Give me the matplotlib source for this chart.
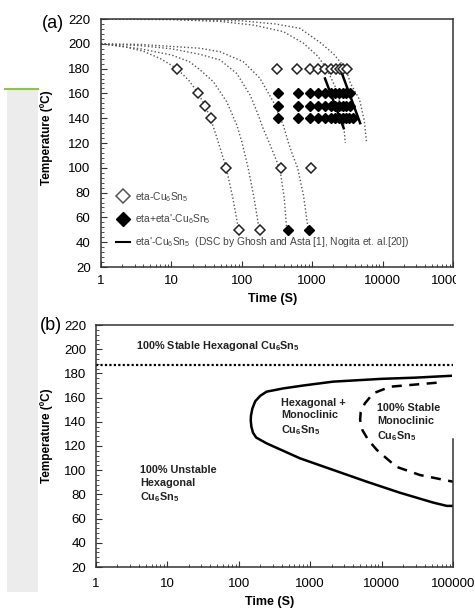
import matplotlib
matplotlib.use("Agg")
import matplotlib.pyplot as plt
from matplotlib.patches import Rectangle
from matplotlib.lines import Line2D
from matplotlib.ticker import LogLocator, MultipleLocator, FixedLocator, NullFormatter

plt.rcParams['font.family'] = ['Liberation Sans', 'DejaVu Sans']
plt.rcParams['mathtext.fontset'] = 'custom'
plt.rcParams['mathtext.rm'] = 'Liberation Sans'
plt.rcParams['mathtext.bf'] = 'Liberation Sans:bold'
plt.rcParams['mathtext.default'] = 'regular'

# ---------------- Panel (a) data ----------------
eta_180_t = [12, 313, 614, 931, 1222, 1521, 1849, 2178, 2483, 2767, 3090]
eta_other_t = [24, 30, 36, 60, 360, 950, 90, 180]
eta_other_T = [160, 150, 140, 100, 100, 100, 50, 50]
mix_t_160 = [330, 622, 931, 1222, 1521, 1832, 2110, 2427, 2711, 3020, 3400]
mix_t_150 = [330, 622, 931, 1222, 1521, 1832, 2110, 2427, 2711, 3020, 3420]
mix_t_140 = [330, 622, 931, 1222, 1521, 1832, 2110, 2427, 2711, 3020, 3365, 3760]
mix_50_t = [450, 900]

curveA_t = [1, 2, 4, 7, 12, 18, 24, 30, 36, 45, 60, 75, 90]
curveA_T = [200, 198, 194, 188, 180, 170, 160, 150, 140, 123, 100, 75, 50]
curveB_t = [1, 3.6, 10, 18, 25.5, 39.5, 61, 85, 100, 123, 150, 177]
curveB_T = [200, 196, 191, 185.6, 179, 169.4, 153.3, 134.5, 121, 100, 75, 50]
curveC_t = [1, 3.6, 10, 25.5, 49, 85, 131, 165, 200, 250, 300, 350, 400, 435]
curveC_T = [200, 198.5, 196, 191.5, 187, 176, 158.7, 145, 132, 119, 108, 98, 76, 50]
curveD_t = [1, 3.6, 25.5, 49, 105, 181, 280, 388, 455, 530, 620, 750, 880]
curveD_T = [200, 199.5, 196.4, 193.6, 185.6, 172.2, 153.3, 134.5, 121, 110, 100, 78, 50]
curveE_t = [1, 10, 50, 150, 390, 750, 1200, 1600, 2100, 2500, 2750, 2950]
curveE_T = [220, 219.5, 218, 215, 209.8, 200.5, 190, 180, 166, 152, 140, 120]
curveF_t = [1, 10, 100, 300, 670, 1300, 2000, 3000, 3500, 4700, 5500, 5900]
curveF_T = [220, 219.8, 218.5, 216, 212.5, 201, 192, 180, 168, 155, 138, 121]

dsc1_t = [1520, 2800]
dsc1_T = [172, 132]
dsc2_t = [2650, 4800]
dsc2_T = [176, 136]

# ---------------- Panel (b) data ----------------
hex_stable_T = 187
hex_stable_t = [1, 100000]
solid_t = [93000, 30000, 10000, 2100, 800, 420, 245, 200, 170, 155, 148, 147, 150, 158,
           175, 245, 720, 2100, 6200, 18000, 53000, 82000, 100000]
solid_T = [178, 176.5, 175.5, 173.2, 170, 167.6, 164.9, 161.5, 157, 151, 145, 141, 136, 131,
           127, 122.2, 109.8, 100.2, 90.5, 81.4, 73.2, 70.5, 70.5]
dashed_t = [59000, 13200, 7600, 5800, 5100, 5000, 5400, 6500, 8600, 16000, 34500, 100000]
dashed_T = [172.3, 169, 163.5, 155, 148, 141.5, 133, 125, 116.7, 102.9, 96, 90.5]

x_ticks = [1, 10, 100, 1000, 10000, 100000]
x_ticklabels = ['1', '10', '100', '1000', '10000', '100000']
y_ticks = [20, 40, 60, 80, 100, 120, 140, 160, 180, 200, 220]

W, H = 475, 608
fig = plt.figure(figsize=(W / 100, H / 100), dpi=100)

# left decorative strip
fig.patches.append(Rectangle((7 / W, 1 - 592 / H), 31 / W, (592 - 90) / H,
                             transform=fig.transFigure, facecolor='#ececec',
                             edgecolor='none', zorder=-5))
fig.add_artist(Line2D([5 / W, 38 / W], [1 - 89 / H, 1 - 89 / H], transform=fig.transFigure,
                      color='#8dc63f', lw=1.5))

ax1 = fig.add_axes([101 / W, 1 - 267 / H, 352 / W, 248 / H])
ax2 = fig.add_axes([96 / W, 1 - 567 / H, 357 / W, 242 / H])


def style(ax, xpad, ypad):
    ax.set_xscale('log')
    ax.set_xlim(1, 100000)
    ax.set_ylim(20, 220)
    ax.xaxis.set_major_locator(FixedLocator(x_ticks))
    ax.set_xticklabels(x_ticklabels)
    ax.xaxis.set_minor_locator(LogLocator(base=10, subs=range(2, 10), numticks=20))
    ax.xaxis.set_minor_formatter(NullFormatter())
    ax.set_yticks(y_ticks)
    ax.yaxis.set_minor_locator(MultipleLocator(4))
    ax.tick_params(axis='both', which='both', direction='in', top=False, right=False,
                   color='#333333')
    ax.tick_params(axis='x', which='major', length=4, pad=xpad, labelsize=9.5)
    ax.tick_params(axis='x', which='minor', length=2.5)
    ax.tick_params(axis='y', which='major', length=4, pad=ypad, labelsize=9.5)
    ax.tick_params(axis='y', which='minor', length=2.5)
    for s in ax.spines.values():
        s.set_color('#333333')
        s.set_linewidth(1.1)


style(ax1, 6, 7.5)
style(ax2, 8, 7)

dot = (0, (1, 1.6))
for ct, cT in [(curveA_t, curveA_T), (curveB_t, curveB_T), (curveC_t, curveC_T),
               (curveD_t, curveD_T), (curveE_t, curveE_T), (curveF_t, curveF_T)]:
    ax1.plot(ct, cT, linestyle=dot, color='#555555', lw=1.0, zorder=2)

ax1.plot(dsc1_t, dsc1_T, color='black', lw=1.8, zorder=3)
ax1.plot(dsc2_t, dsc2_T, color='black', lw=1.8, zorder=3)

mk = dict(marker='D', ms=5.2, linestyle='none', zorder=4)
ax1.plot(eta_180_t, [180] * len(eta_180_t), mfc='white', mec='#222222', mew=1.1, **mk)
ax1.plot(eta_other_t, eta_other_T, mfc='white', mec='#222222', mew=1.1, **mk)
ax1.plot(mix_t_160, [160] * len(mix_t_160), mfc='black', mec='black', **mk)
ax1.plot(mix_t_150, [150] * len(mix_t_150), mfc='black', mec='black', **mk)
ax1.plot(mix_t_140, [140] * len(mix_t_140), mfc='black', mec='black', **mk)
ax1.plot(mix_50_t, [50, 50], mfc='black', mec='black', **mk)

h1 = Line2D([], [], marker='D', ms=7, mfc='white', mec='#555555', mew=1.1, linestyle='none')
h2 = Line2D([], [], marker='D', ms=7, mfc='black', mec='black', linestyle='none')
h3 = Line2D([], [], color='black', lw=1.5)
leg = ax1.legend([h1, h2, h3],
                 ['eta-Cu$_6$Sn$_5$', "eta+eta'-Cu$_6$Sn$_5$",
                  "eta'-Cu$_6$Sn$_5$  (DSC by Ghosh and Asta [1], Nogita et. al.[20])"],
                 loc='upper left', bbox_to_anchor=(0.025, 0.335), frameon=False,
                 fontsize=7.4, handlelength=1.4, handletextpad=0.5, labelspacing=0.85,
                 borderaxespad=0.2, numpoints=1)
for t in leg.get_texts():
    t.set_color('#444444')

# panel b
ax2.plot(hex_stable_t, [hex_stable_T, hex_stable_T], linestyle=(0, (1, 1)), color='black', lw=1.6)
ax2.plot(solid_t, solid_T, color='black', lw=1.8, solid_joinstyle='round')
ax2.plot(dashed_t, dashed_T, color='black', lw=1.8, linestyle=(0, (4, 3)))
ax2.spines['right'].set_bounds(20, 126)

tk = dict(fontsize=7.8, fontweight='bold', color='#222222', va='center', ha='left',
          linespacing=1.3)
ax2.text(3.6, 203, '100% Stable Hexagonal Cu$_\\mathbf{6}$Sn$_\\mathbf{5}$', **tk)
ax2.text(4.1, 88, '100% Unstable\nHexagonal\nCu$_\\mathbf{6}$Sn$_\\mathbf{5}$', **tk)
ax2.text(390, 143.5, 'Hexagonal +\nMonoclinic\nCu$_\\mathbf{6}$Sn$_\\mathbf{5}$', **tk)
ax2.text(8600, 139, '100% Stable\nMonoclinic\nCu$_\\mathbf{6}$Sn$_\\mathbf{5}$', **tk)

# axis labels and panel tags
fig.text(273 / W, 1 - 299 / H, 'Time (S)', fontsize=9, fontweight='bold', ha='center', va='center')
fig.text(270 / W, 1 - 602 / H, 'Time (S)', fontsize=9, fontweight='bold', ha='center', va='center')
fig.text(47 / W, 1 - 138 / H, 'Temperature (ºC)', fontsize=8.5, fontweight='bold',
         rotation=90, ha='center', va='center')
fig.text(47 / W, 1 - 436 / H, 'Temperature (ºC)', fontsize=8.5, fontweight='bold',
         rotation=90, ha='center', va='center')
fig.text(53 / W, 1 - 23 / H, '(a)', fontsize=13, ha='center', va='center')
fig.text(51 / W, 1 - 326 / H, '(b)', fontsize=13, ha='center', va='center')

# crop of panel (a) on the right side, as in the reference
fig.patches.append(Rectangle((455.5 / W, 1 - 292 / H), 20 / W, 292 / H, transform=fig.transFigure,
                             facecolor='white', edgecolor='none', zorder=10))

fig.savefig('out.png', dpi=100)
